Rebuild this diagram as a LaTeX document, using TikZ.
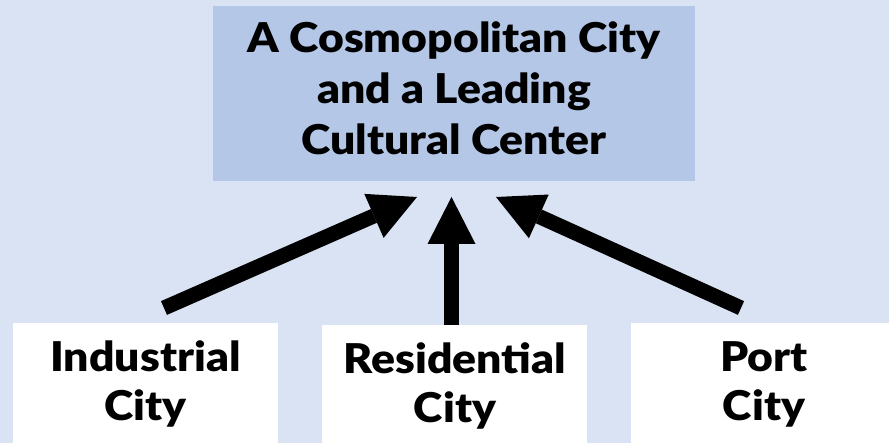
\documentclass[tikz,border=0pt]{standalone}
\usepackage{fontspec}
\setmainfont{Lato}[BoldFont={Lato Black}, BoldFeatures={FakeStretch=1.085}]
\usetikzlibrary{arrows.meta}
\definecolor{pagebg}{HTML}{DAE3F3}
\definecolor{headbg}{HTML}{B4C7E7}
\newcommand{\boxline}[1]{\strut#1}
\begin{document}
\begin{tikzpicture}[x=1pt,y=-1pt,
  txt/.style={inner sep=0pt, align=center, font=\fontsize{41}{49}\selectfont\bfseries},
  bigarrow/.style={line width=15pt, -{Triangle[length=47pt,width=48pt,line width=0pt]}}]
  % page background
  \fill[pagebg] (0,0) rectangle (889,443);
  \useasboundingbox (0,0) rectangle (889,443);

  % boxes
  \node[fill=headbg, minimum width=482pt, minimum height=175pt, inner sep=0pt] (goal) at (454,93.5) {};
  \node[fill=white, minimum width=265pt, minimum height=140pt, inner sep=0pt] (ind) at (145.5,393) {};
  \node[fill=white, minimum width=265pt, minimum height=140pt, inner sep=0pt] (res) at (454.5,395) {};
  \node[fill=white, minimum width=266pt, minimum height=140pt, inner sep=0pt] (port) at (764,393) {};

  % texts
  \node[txt, font=\fontsize{41}{51}\selectfont\bfseries] (goalt) at (goal.center) {\boxline{A Cosmopolitan City}\\\boxline{and a Leading}\\\boxline{Cultural Center}};
  \node[txt] (indt) at (145.5,386) {\boxline{Industrial}\\\boxline{City}};
  \node[txt] (rest) at (455,388) {\boxline{Residential}\\\boxline{City}};
  \node[txt] (portt) at (764,386) {\boxline{Port}\\\boxline{City}};

  % arrow ends
  \coordinate (indtop) at (164,308);
  \coordinate (portop) at (741,308);
  \coordinate (goall) at (417,197);
  \coordinate (goalm) at (451.5,197);
  \coordinate (goalr) at (496,197);

  % arrows
  \draw[bigarrow] (indtop) -- (goall);
  \draw[bigarrow] (res.north -| goalm) -- (goalm);
  \draw[bigarrow] (portop) -- (goalr);
\end{tikzpicture}
\end{document}
